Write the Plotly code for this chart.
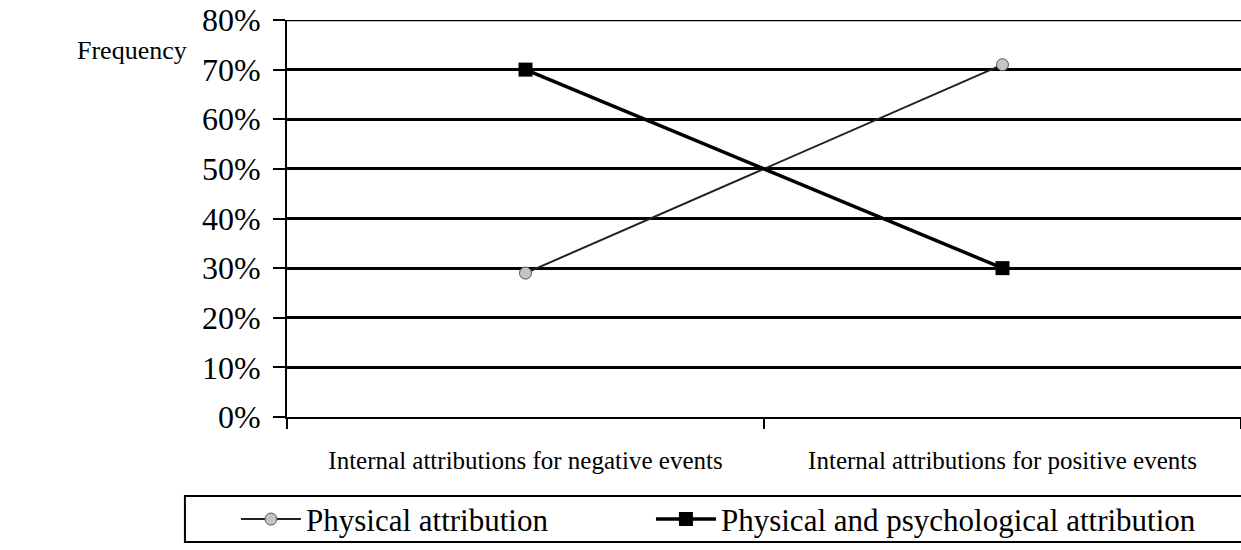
import plotly.graph_objects as go

categories = ["Internal attributions for negative events", "Internal attributions for positive events"]
physical = [0.29, 0.71]
phys_psych = [0.70, 0.30]
series_names = ["Physical attribution", "Physical and psychological attribution"]
y_ticks = [0, 0.1, 0.2, 0.3, 0.4, 0.5, 0.6, 0.7, 0.8]

FONT = "Liberation Serif, Times New Roman, serif"

fig = go.Figure()
fig.add_trace(go.Scatter(
    x=categories, y=physical, name=series_names[0], mode="lines+markers",
    line=dict(color="#222222", width=2),
    marker=dict(symbol="circle", size=12, color="#c4c4c4", line=dict(color="#555555", width=1)),
    legend="legend",
))
fig.add_trace(go.Scatter(
    x=categories, y=phys_psych, name=series_names[1], mode="lines+markers",
    line=dict(color="black", width=3.5),
    marker=dict(symbol="square", size=14, color="black"),
    legend="legend2",
))

legend_common = dict(
    orientation="h", yanchor="middle", xanchor="left",
    borderwidth=0, bgcolor="rgba(0,0,0,0)", font=dict(size=31, family=FONT),
    itemwidth=60,
)

fig.update_layout(
    width=1241, height=550,
    margin=dict(l=287, r=0, t=20, b=133, autoexpand=False),
    paper_bgcolor="white", plot_bgcolor="white",
    font=dict(family=FONT, color="black"),
    showlegend=True,
    legend=dict(x=-0.0535, y=-0.258, **legend_common),
    legend2=dict(x=0.3815, y=-0.258, **legend_common),
    xaxis=dict(
        type="category", range=[-0.5, 1.5], tickson="boundaries",
        ticks="outside", ticklen=10, tickwidth=2, tickcolor="black",
        showline=True, linecolor="black", linewidth=2,
        showgrid=False, tickfont=dict(size=25, family=FONT),
        ticklabelstandoff=20,
    ),
    yaxis=dict(
        range=[0, 0.8], tickvals=y_ticks, tickformat=".0%",
        ticks="outside", ticklen=12, tickwidth=2, tickcolor="black",
        showline=True, linecolor="black", linewidth=2,
        showgrid=True, gridcolor="black", gridwidth=2.5,
        zeroline=False, tickfont=dict(size=32, family=FONT),
        ticklabelstandoff=6, ticklabeloverflow="allow",
    ),
    shapes=[
        dict(
            type="rect", xref="paper", yref="paper",
            x0=-0.107, x1=1.05, y0=-0.315, y1=-0.199,
            line=dict(color="black", width=2), fillcolor="rgba(0,0,0,0)", layer="above",
        ),
        dict(
            type="line", xref="paper", yref="y",
            x0=0, x1=1, y0=y_ticks[-1], y1=y_ticks[-1],
            line=dict(color="black", width=2.5), layer="below",
        ),
    ],
    annotations=[dict(
        text="Frequency", xref="paper", yref="paper", x=-0.222, y=0.924,
        xanchor="left", yanchor="middle", showarrow=False,
        font=dict(size=26, family=FONT),
    )],
)

fig.write_html(
    "out.html",
    config={"displayModeBar": False},
    post_script="document.body.style.margin='0';document.body.style.overflow='hidden';"
                "document.documentElement.style.overflow='hidden';",
)
